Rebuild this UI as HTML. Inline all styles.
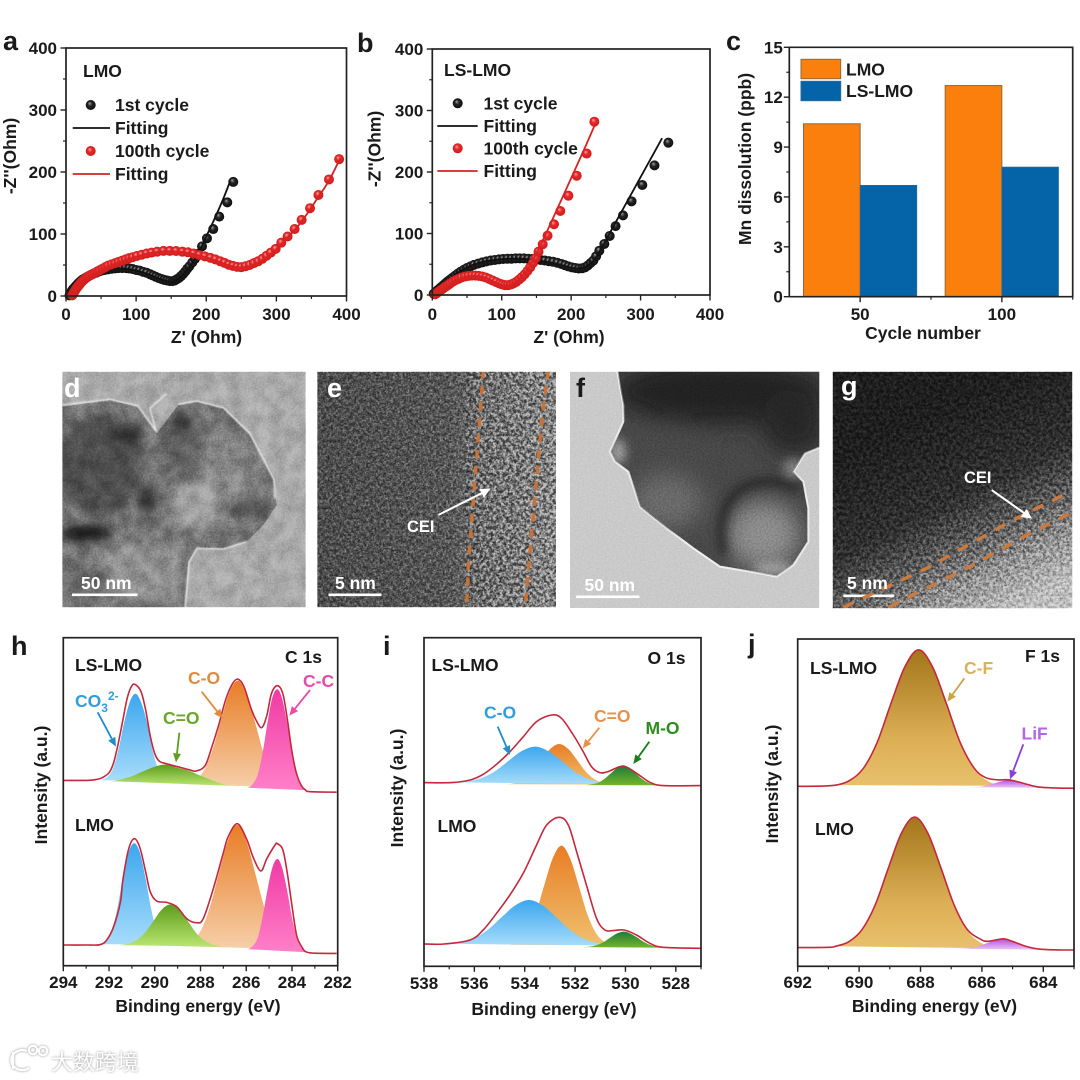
<!DOCTYPE html>
<html lang="en">
<head>
<meta charset="utf-8">
<title>LMO and LS-LMO electrochemical, TEM and XPS figure</title>
<style>
html,body{margin:0;padding:0;background:#fff}
svg{display:block}
text{font-family:"Liberation Sans","Noto Sans CJK SC",sans-serif;font-weight:700;fill:#1a1a1a}
.lbl{font-size:17.5px}
.ttl{font-size:17.5px}
.tick{font-size:17px}
.pl{font-size:27px}
</style>
</head>
<body>
<svg id="fig" xmlns="http://www.w3.org/2000/svg" width="1080" height="1080" viewBox="0 0 1080 1080">
<defs>
  <radialGradient id="ballBlack" cx=".5" cy=".5" r=".55" fx=".38" fy=".32"><stop offset="0" stop-color="#a5a5a5"/><stop offset=".4" stop-color="#262626"/><stop offset="1" stop-color="#0a0a0a"/></radialGradient>
  <radialGradient id="ballRed" cx=".5" cy=".5" r=".55" fx=".38" fy=".32"><stop offset="0" stop-color="#f5a8a8"/><stop offset=".4" stop-color="#e62a2a"/><stop offset="1" stop-color="#cc1a1a"/></radialGradient>
  <linearGradient id="gBlue" x1="0" y1="0" x2="0" y2="1"><stop offset="0" stop-color="#3ca6ee"/><stop offset="1" stop-color="#a6dcfb"/></linearGradient>
  <linearGradient id="gOrange" x1="0" y1="0" x2="0" y2="1"><stop offset="0" stop-color="#e87d26"/><stop offset="1" stop-color="#f6cfa9"/></linearGradient>
  <linearGradient id="gOrange2" x1="0" y1="0" x2="0" y2="1"><stop offset="0" stop-color="#e87d26"/><stop offset="1" stop-color="#efc06e"/></linearGradient>
  <linearGradient id="gGreen" x1="0" y1="0" x2="0" y2="1"><stop offset="0" stop-color="#5c9c1c"/><stop offset="1" stop-color="#b9e670"/></linearGradient>
  <linearGradient id="gDarkGreen" x1="0" y1="0" x2="0" y2="1"><stop offset="0" stop-color="#1f7a3a"/><stop offset="1" stop-color="#74b52a"/></linearGradient>
  <linearGradient id="gPink" x1="0" y1="0" x2="0" y2="1"><stop offset="0" stop-color="#f03aa4"/><stop offset="1" stop-color="#ff80c8"/></linearGradient>
  <linearGradient id="gGold" x1="0" y1="0" x2="0" y2="1"><stop offset="0" stop-color="#a4761b"/><stop offset=".65" stop-color="#dcae55"/><stop offset="1" stop-color="#e8c06c"/></linearGradient>
  <linearGradient id="gPurple" x1="0" y1="0" x2="0" y2="1"><stop offset="0" stop-color="#b455e0"/><stop offset="1" stop-color="#edc4f8"/></linearGradient>
  <linearGradient id="eBase" x1="0" y1="0" x2="1" y2="0"><stop offset="0" stop-color="#4c4c4c"/><stop offset=".55" stop-color="#565656"/><stop offset=".68" stop-color="#6c6c6c"/><stop offset="1" stop-color="#868686"/></linearGradient>
  <linearGradient id="gBase" gradientUnits="userSpaceOnUse" x1="915" y1="420" x2="1010" y2="610"><stop offset="0" stop-color="#1e1e1e"/><stop offset=".42" stop-color="#303030"/><stop offset=".64" stop-color="#5f5f5f"/><stop offset=".8" stop-color="#929292"/><stop offset="1" stop-color="#bdbdbd"/></linearGradient>
  <filter id="blur8" x="-40%" y="-40%" width="180%" height="180%"><feGaussianBlur stdDeviation="14"/></filter>
  <filter id="blur20" x="-60%" y="-60%" width="220%" height="220%"><feGaussianBlur stdDeviation="34"/></filter>
  <filter id="blur2" x="-10%" y="-10%" width="120%" height="120%"><feGaussianBlur stdDeviation="2.5"/></filter>
  <filter id="noiseFine" x="0" y="0" width="1" height="1" color-interpolation-filters="sRGB"><feTurbulence type="fractalNoise" baseFrequency=".6" numOctaves="2" seed="4"/><feColorMatrix type="matrix" values="1 0 0 0 0 1 0 0 0 0 1 0 0 0 0 0 0 0 0 1"/><feComponentTransfer><feFuncR type="linear" slope="2.4" intercept="-.7"/><feFuncG type="linear" slope="2.4" intercept="-.7"/><feFuncB type="linear" slope="2.4" intercept="-.7"/></feComponentTransfer></filter>
  <filter id="noiseMid" x="0" y="0" width="1" height="1" color-interpolation-filters="sRGB"><feTurbulence type="fractalNoise" baseFrequency=".3" numOctaves="2" seed="7"/><feColorMatrix type="matrix" values="1 0 0 0 0 1 0 0 0 0 1 0 0 0 0 0 0 0 0 1"/><feComponentTransfer><feFuncR type="linear" slope="2.8" intercept="-.9"/><feFuncG type="linear" slope="2.8" intercept="-.9"/><feFuncB type="linear" slope="2.8" intercept="-.9"/></feComponentTransfer></filter>
  <filter id="noiseSoft" x="0" y="0" width="1" height="1" color-interpolation-filters="sRGB"><feTurbulence type="fractalNoise" baseFrequency=".07" numOctaves="3" seed="9"/><feColorMatrix type="matrix" values="1 0 0 0 0 1 0 0 0 0 1 0 0 0 0 0 0 0 0 1"/><feComponentTransfer><feFuncR type="linear" slope="2" intercept="-.5"/><feFuncG type="linear" slope="2" intercept="-.5"/><feFuncB type="linear" slope="2" intercept="-.5"/></feComponentTransfer></filter>
  <clipPath id="clipD"><rect x="62.3" y="371.7" width="243.4" height="235.6"/></clipPath>
  <clipPath id="clipE"><rect x="317.3" y="371.7" width="238.7" height="235.6"/></clipPath>
  <clipPath id="clipF"><rect x="570" y="371.7" width="249.3" height="236.3"/></clipPath>
  <clipPath id="clipG"><rect x="832.7" y="371.7" width="239.6" height="236.6"/></clipPath>
  <clipPath id="clipDParticle"><path d="M37,125 L180,105 L265,125 L320,205 L385,120 L440,110 L520,130 L600,210 L670,340 L680,420 L640,480 L590,530 L520,550 L440,550 L415,590 L405,727 L37,727Z"/></clipPath>
  <clipPath id="clipFParticle"><path d="M170,10 L190,120 L190,170 L170,215 L150,260 L165,290 L205,320 L240,425 L320,490 L400,550 L480,605 L600,625 L650,635 L700,600 L745,530 L745,430 L730,350 L700,320 L735,265 L785,245 L785,10Z"/></clipPath>
</defs>

<!-- TEM image d -->
<g clip-path="url(#clipD)">
  <rect x="62.3" y="371.7" width="243.4" height="235.6" fill="#a9a9a9"/>
  <g transform="translate(50,365) scale(.33333)">
    <path d="M37,125 L180,105 L265,125 L320,205 L385,120 L440,110 L520,130 L600,210 L670,340 L680,420 L640,480 L590,530 L520,550 L440,550 L415,590 L405,727 L37,727Z" fill="#747474"/>
    <g clip-path="url(#clipDParticle)">
      <g filter="url(#blur8)">
        <ellipse cx="150" cy="300" rx="125" ry="150" fill="#4d4d4d"/>
        <ellipse cx="230" cy="210" rx="50" ry="30" fill="#2e2e2e"/>
        <ellipse cx="110" cy="505" rx="80" ry="24" fill="#121212"/>
        <ellipse cx="290" cy="400" rx="28" ry="40" fill="#2e2e2e"/>
        <ellipse cx="400" cy="250" rx="60" ry="80" fill="#5f5f5f"/>
        <ellipse cx="395" cy="175" rx="32" ry="30" fill="#343434"/>
        <ellipse cx="540" cy="320" rx="90" ry="110" fill="#868686"/>
        <ellipse cx="440" cy="420" rx="70" ry="75" fill="#a0a0a0"/>
        <ellipse cx="600" cy="430" rx="60" ry="25" fill="#484848"/>
        <ellipse cx="240" cy="620" rx="120" ry="85" fill="#909090"/>
        <ellipse cx="110" cy="640" rx="70" ry="50" fill="#686868"/>
        <ellipse cx="340" cy="630" rx="50" ry="90" fill="#929292"/>
      </g>
    </g>
    <path d="M37,120 L180,103 L262,122 L318,198 L300,130 L350,85 M385,118 L440,108 L520,128 L600,205 L672,345 L675,400 M590,530 L520,552 L440,550 L418,590 L405,727" fill="none" stroke="#ececec" stroke-width="4" filter="url(#blur2)"/>
  </g>
  <rect x="62.3" y="371.7" width="243.4" height="235.6" filter="url(#noiseSoft)" style="mix-blend-mode:overlay" opacity=".16"/>
  <rect x="62.3" y="371.7" width="243.4" height="235.6" filter="url(#noiseFine)" style="mix-blend-mode:overlay" opacity=".12"/>
  <rect x="72" y="593.5" width="65.5" height="2.6" fill="#fff"/>
</g>
<text class="pl" x="64" y="397" style="fill:#fff">d</text>
<text class="lbl" x="81" y="589" style="fill:#fff">50 nm</text>

<!-- TEM image e -->
<g clip-path="url(#clipE)">
  <rect x="317.3" y="371.7" width="238.7" height="235.6" fill="url(#eBase)"/>
  <rect x="317.3" y="371.7" width="238.7" height="235.6" filter="url(#noiseFine)" style="mix-blend-mode:overlay" opacity=".35"/>
  <rect x="317.3" y="371.7" width="238.7" height="235.6" filter="url(#noiseMid)" style="mix-blend-mode:overlay" opacity=".28"/>
  <rect x="465" y="371.7" width="91" height="235.6" filter="url(#noiseMid)" style="mix-blend-mode:overlay" opacity=".26"/>
  <rect x="328.5" y="593.5" width="53" height="2.6" fill="#fff"/>
  <g transform="translate(50,365) scale(.33333)" fill="none">
    <path d="M1300,15 L1290,150 L1275,340 L1255,600 L1250,730" stroke="#c97238" stroke-width="10" stroke-dasharray="26 22"/>
    <path d="M1495,15 L1475,170 L1460,340 L1440,560 L1425,730" stroke="#c97238" stroke-width="10" stroke-dasharray="26 22"/>
    <line x1="1165" y1="450" x2="1300" y2="382" stroke="#fff" stroke-width="6"/>
    <polygon points="1322,370 1288,372 1302,398" fill="#fff"/>
  </g>
</g>
<text class="pl" x="327" y="397" style="fill:#fff">e</text>
<text x="407" y="532" style="fill:#fff;font-size:16.5px">CEI</text>
<text class="lbl" x="335" y="589" style="fill:#fff">5 nm</text>

<!-- TEM image f -->
<g clip-path="url(#clipF)">
  <rect x="570" y="371.7" width="249.3" height="236.3" fill="#cacaca"/>
  <g transform="translate(560,365) scale(.33333)">
    <path d="M170,10 L190,120 L190,170 L170,215 L150,260 L165,290 L205,320 L240,425 L320,490 L400,550 L480,605 L600,625 L650,635 L700,600 L745,530 L745,430 L730,350 L700,320 L735,265 L785,245 L785,10Z" fill="#484848" stroke="#f2f2f2" stroke-width="6"/>
    <g clip-path="url(#clipFParticle)">
      <g filter="url(#blur20)">
        <ellipse cx="480" cy="80" rx="320" ry="100" fill="#232323"/>
        <ellipse cx="700" cy="170" rx="100" ry="100" fill="#262626"/>
        <ellipse cx="320" cy="260" rx="110" ry="60" fill="#494949"/>
        <ellipse cx="320" cy="410" rx="110" ry="80" fill="#6a6a6a"/>
        <ellipse cx="610" cy="510" rx="110" ry="100" fill="#8c8c8c"/>
      </g>
      <path d="M490,570 C465,460 500,360 610,350 C650,348 690,355 715,375" fill="none" stroke="#262626" stroke-width="26" filter="url(#blur8)"/>
      <g filter="url(#blur8)">
        <ellipse cx="175" cy="260" rx="22" ry="38" fill="#a0a0a0"/>
        <ellipse cx="640" cy="610" rx="60" ry="18" fill="#a4a4a4"/>
        <ellipse cx="700" cy="310" rx="30" ry="28" fill="#808080"/>
      </g>
    </g>
  </g>
  <rect x="570" y="371.7" width="249.3" height="236.3" filter="url(#noiseFine)" style="mix-blend-mode:overlay" opacity=".1"/>
  <rect x="576" y="595.5" width="63.5" height="2.6" fill="#fff"/>
</g>
<text class="pl" x="576" y="397">f</text>
<text class="lbl" x="584.5" y="591" style="fill:#fff">50 nm</text>

<!-- TEM image g -->
<g clip-path="url(#clipG)">
  <rect x="832.7" y="371.7" width="239.6" height="236.6" fill="url(#gBase)"/>
  <rect x="832.7" y="371.7" width="239.6" height="236.6" filter="url(#noiseFine)" style="mix-blend-mode:overlay" opacity=".28"/>
  <rect x="832.7" y="371.7" width="239.6" height="236.6" filter="url(#noiseMid)" style="mix-blend-mode:overlay" opacity=".38"/>
  <rect x="843.3" y="594.5" width="51" height="2.6" fill="#fff"/>
  <g transform="translate(560,365) scale(.33333)" fill="none">
    <path d="M850,727 L1100,610 L1350,470 L1530,380" stroke="#cc7a3e" stroke-width="10" stroke-dasharray="34 30"/>
    <path d="M985,727 L1220,610 L1400,510 L1540,440" stroke="#cc7a3e" stroke-width="10" stroke-dasharray="34 30"/>
    <line x1="1295" y1="375" x2="1395" y2="446" stroke="#fff" stroke-width="6"/>
    <polygon points="1416,461 1400,432 1382,456" fill="#fff"/>
  </g>
</g>
<text class="pl" x="841" y="395" style="fill:#fff">g</text>
<text x="964" y="483" style="fill:#fff;font-size:16.5px">CEI</text>
<text class="lbl" x="847" y="589" style="fill:#fff">5 nm</text>

<!-- Chart layers filled by script -->
<g id="panelA"></g>
<g id="panelB"></g>
<g id="panelC"></g>
<g id="panelH"></g>
<g id="panelI"></g>
<g id="panelJ"></g>

<!-- Panel letters -->
<text class="pl" x="3" y="50">a</text>
<text class="pl" x="357" y="52">b</text>
<text class="pl" x="726" y="50">c</text>
<text class="pl" x="11" y="655">h</text>
<text class="pl" x="383" y="655">i</text>
<text class="pl" x="748" y="653">j</text>

<!-- Panel a text -->
<text class="ttl" x="206.5" y="343" text-anchor="middle">Z' (Ohm)</text>
<text class="ttl" transform="translate(16,156) rotate(-90)" text-anchor="middle">-Z''(Ohm)</text>
<text class="lbl" x="83" y="77">LMO</text>
<text class="lbl" x="115" y="111">1st cycle</text>
<text class="lbl" x="115" y="134">Fitting</text>
<text class="lbl" x="115" y="157">100th cycle</text>
<text class="lbl" x="115" y="180">Fitting</text>
<circle cx="90.7" cy="105" r="5" fill="url(#ballBlack)"/>
<line x1="72.7" y1="128" x2="110" y2="128" stroke="#111" stroke-width="1.8"/>
<circle cx="90.7" cy="151" r="5" fill="url(#ballRed)"/>
<line x1="72.7" y1="174" x2="110" y2="174" stroke="#d62222" stroke-width="1.8"/>

<!-- Panel b text -->
<text class="ttl" x="569" y="343" text-anchor="middle">Z' (Ohm)</text>
<text class="ttl" transform="translate(380.5,149) rotate(-90)" text-anchor="middle">-Z''(Ohm)</text>
<text class="lbl" x="444" y="76">LS-LMO</text>
<text class="lbl" x="483.5" y="109.5">1st cycle</text>
<text class="lbl" x="483.5" y="132">Fitting</text>
<text class="lbl" x="483.5" y="154.5">100th cycle</text>
<text class="lbl" x="483.5" y="177">Fitting</text>
<circle cx="457.7" cy="103.3" r="5" fill="url(#ballBlack)"/>
<line x1="437.3" y1="126" x2="477.7" y2="126" stroke="#111" stroke-width="1.8"/>
<circle cx="457.7" cy="148.3" r="5" fill="url(#ballRed)"/>
<line x1="437.3" y1="171" x2="477.7" y2="171" stroke="#d62222" stroke-width="1.8"/>

<!-- Panel c text -->
<text class="ttl" x="923" y="339" text-anchor="middle">Cycle number</text>
<text class="ttl" transform="translate(751,159) rotate(-90)" text-anchor="middle">Mn dissolution (ppb)</text>
<rect x="801" y="59.3" width="39.7" height="19.4" fill="#fb7f0c" stroke="#8f6a3a" stroke-width="1"/>
<rect x="801" y="81.3" width="39.7" height="19.4" fill="#0563a8" stroke="#2a6a9c" stroke-width="1"/>
<text class="lbl" x="846" y="75.5">LMO</text>
<text class="lbl" x="846" y="97">LS-LMO</text>

<!-- Panel h text -->
<text class="ttl" x="198" y="1012" text-anchor="middle">Binding energy (eV)</text>
<text class="ttl" transform="translate(47,785) rotate(-90)" text-anchor="middle">Intensity (a.u.)</text>
<text class="lbl" x="75" y="671">LS-LMO</text>
<text class="lbl" x="75" y="831">LMO</text>
<text class="lbl" x="285" y="663">C 1s</text>
<text class="lbl" x="75" y="707" style="fill:#2f9fdc">CO<tspan dy="5" font-size="12">3</tspan><tspan dy="-12" font-size="12">2-</tspan></text>
<text class="lbl" x="188" y="684" style="fill:#e08c40">C-O</text>
<text class="lbl" x="163" y="724" style="fill:#6aa52c">C=O</text>
<text class="lbl" x="303" y="687" style="fill:#e64bab">C-C</text>

<!-- Panel i text -->
<text class="ttl" x="554" y="1015" text-anchor="middle">Binding energy (eV)</text>
<text class="ttl" transform="translate(403,788) rotate(-90)" text-anchor="middle">Intensity (a.u.)</text>
<text class="lbl" x="431.5" y="671">LS-LMO</text>
<text class="lbl" x="437.5" y="832">LMO</text>
<text class="lbl" x="647.5" y="664">O 1s</text>
<text class="lbl" x="484" y="718.5" style="fill:#2f9fdc">C-O</text>
<text class="lbl" x="594" y="722" style="fill:#e8914a">C=O</text>
<text class="lbl" x="645.5" y="734" style="fill:#2e8b1e">M-O</text>

<!-- Panel j text -->
<text class="ttl" x="934.5" y="1012" text-anchor="middle">Binding energy (eV)</text>
<text class="ttl" transform="translate(778,784) rotate(-90)" text-anchor="middle">Intensity (a.u.)</text>
<text class="lbl" x="810" y="674">LS-LMO</text>
<text class="lbl" x="815" y="835">LMO</text>
<text class="lbl" x="1025" y="662">F 1s</text>
<text class="lbl" x="964" y="674" style="fill:#d9b25a">C-F</text>
<text class="lbl" x="1021.5" y="739.5" style="fill:#b565e8">LiF</text>

<!-- Watermark -->
<g style="filter:drop-shadow(0 0 1.4px #8f8f8f)">
  <g fill="none" stroke="#fff" stroke-width="2.2">
    <path d="M13,1052 L13,1069 M27,1051 A11,10 0 1 0 29,1068"/>
    <circle cx="33" cy="1050" r="4.2"/>
    <circle cx="43" cy="1051" r="4.2"/>
  </g>
  <text x="51" y="1070" style="fill:#fff;font-size:22px;font-weight:400;font-family:'Liberation Sans','Noto Sans CJK SC',sans-serif">大数跨境</text>
</g>
</svg>

<script>
/* ---------- Panel a: Nyquist, LMO ---------- */
const aX1st=[5,6,7,8.5,10,12,14,16,18,20.5,23,26,29,32,35.5,39,43,47,51,55,60,65,70,75,80,85,90,95,100,105,110,115,120,124,128,132,136,140,144,148,152,155,158,161,164,167,170,173,176,180,184,188,194,201,210,218.5,230,238.5];
const aY1st=[1,3.5,6,8.5,11,13.5,16,18.5,21,23.5,26,28,30,32,34,36,37.5,39.5,41,42,43,44,44.5,45,45,45,44.5,43.5,42,41,39,37.5,35,33,31,29,27.5,26,25,24,24,25,27,29,32,35.5,39.5,44,48,54,60,68,80,93,108,128,151,184];
const aXFit1st=[6,10,16,25,36,49,64,80,96,112,126,138,148,155,162,170,180,190,200,212,224,234];
const aYFit1st=[0,9,18,27,34,40,43,44,42,37,31,26,23,24,29,38,53,72,96,125,156,185];
const aX100=[9,10,11,12,13,14,15.5,17,19,21,23,25.5,28,31,34,37.5,41,44.5,48,52,56,60,65,70,75,80,85,90,95,101,108,115,122,130,139,148,157,166,174,182,190,198,206,213,220,226,232,238,244,250,256,262,268,274,280,286,292,299,307,316,326,336,348,360,375,389.5];
const aY100=[1,3,5,7,9,11,13,15.5,18,21,23.5,26,28.5,31,33,35,37,39.5,41.5,44,46.5,49,51,53,55,57,59,61,62.5,64.5,66.5,68.5,70,71.5,72.7,72.7,72.5,71.5,70.5,68.5,66,64,61.5,59,56,53.5,50.5,48.5,47,46.5,48,50,53,56,60,65,70,76,86,96,108,122.7,141.6,163,188,220.7];
const aXFit100=[9,14,20,30,42,56,74,94,115,139,165,188,212,231,248,265,283,299,316,336,360,375,391];
const aYFit100=[0,8,18,28,36,44,53,61,68,72,71,66,58,50,46,49,59,74,94,120,160,186,222];
const aXTicks=[0,100,200,300,400];
const aYTicks=[0,100,200,300,400];
const aXMinor=[50,150,250,350];
const aYMinor=[50,150,250,350];

/* ---------- Panel b: Nyquist, LS-LMO ---------- */
const bX1st=[2,4,6,8,10.5,13,16,19,22,25.5,29,33,37,41,45.5,50,55,60,66,72,78,84,90,96,102,108,114,120,126,132,138,144,150,156,162,168,174,180,186,191,196,201,206,211,216,220,224,228,232,236,240.6,247.8,255.5,264,274.7,287,302.5,320,340];
const bY1st=[2,4,6,8,10.5,13,16,19,22,25,28,31.5,35,38,41,44,46.5,49,51,53,54.7,56,57,58,58.5,59,59,59.5,59.6,59.5,59,58.5,58,57,56,55,54,52.5,50.5,48.5,46.5,45,44,43,43.5,45,48,52,56,63,72,83,96,112,129.5,152.3,178.9,210.8,247.7];
const bXFit1st=[3,13,28,47,67,90,114,138,162,181,200,212,222,234,248,265,287,310,331];
const bYFit1st=[0,14,29,43,52,57,59,58,54,50,44,43,46,58,85,120,165,212,255];
const bX100=[4,6,8,10.5,13,16,19,22.5,26,30,34,38,42,47,52,57,62,67,72,77,82,87,92,97,101,105,109,113,117,121,125,129,133,137,141,145,149,153,159,166,175.3,184.4,196,208,222.3,233.4];
const bY100=[1,2.5,4.5,6.5,8.5,11,13.5,16,19,22,24.5,26.5,28.5,30,31,31.5,31.5,31,30,28.5,26,23.5,21,18.5,17,16,16,17,19,21.5,25,29,33.5,39,45,52,60,70.5,82.4,96.5,115,136.6,161.5,194,230,281.8];
const bXFit100=[6,18,30,45,60,75,90,104,116,128,140,152,165,180,200,220,235];
const bYFit100=[0,10,20,28,31,29,21,15,18,29,47,72,103,140,190,240,279];
const bXTicks=[0,100,200,300,400];
const bYTicks=[0,100,200,300,400];
const bXMinor=[50,150,250,350];
const bYMinor=[50,150,250,350];

/* ---------- Panel c: Mn dissolution ---------- */
const cCycles=[50,100];
const cLmo=[10.4,12.7];
const cLsLmo=[6.7,7.8];
const cYTicks=[0,3,6,9,12,15];
const cYMinor=[1.5,4.5,7.5,10.5,13.5];
const cXMinor=[75,125];

/* ---------- Panel h: C 1s ---------- */
const hXTicks=[294,292,290,288,286,284,282];
const hXMinor=[293,291,289,287,285,283];
const hLsCo3BE=[292.34,292.09,291.84,291.59,291.34,291.09,290.84,290.59,290.34,290.09,289.84,289.59,289.34];
const hLsCo3I=[185.5,188.4,196.4,216,243,264,272,263,243,215,196,188,185];
const hLsCoBE=[288.6,288.24,287.86,287.49,287.11,286.74,286.36,285.99,285.61,285.24,284.86,284.49,284.11];
const hLsCoI=[181.5,185.5,195,215,245,273,285,271,243,212.5,192,182.5,178];
const hLsCdoBE=[291.9,291.5,291,290.5,290,289.52,289,288.5,288,287.5,287,286.7];
const hLsCdoI=[184.5,186,189.5,194.5,199,201,198,195,190,185.5,181.5,180];
const hLsCcBE=[285.93,285.72,285.5,285.29,285.07,284.86,284.64,284.43,284.21,283.99,283.78,283.57,283.35];
const hLsCcI=[178,181.5,191,212,243,268,276.5,267,242,211,189,179.5,175.5];
const hLsEnvBE=[294,293,292.6,292.3,292,291.8,291.6,291.4,291.2,291,290.84,290.6,290.4,290.2,290,289.8,289.5,289,288.5,288.2,287.8,287.5,287.2,286.9,286.6,286.36,286.1,285.8,285.6,285.33,285.1,284.9,284.64,284.4,284.2,284,283.8,283.6,283.4,283.2,282.05];
const hLsEnvI=[185.3,185.3,186,188,193,203,222,245,268,280,281,274,256,230,212,204.5,202,199,196,194.7,200,219,241,266,282,286.5,279,258,247,238,250,272,280,272,246,214,192,180.5,175.5,174,173.5];
const hLmCo3BE=[292.4,292.15,291.9,291.65,291.4,291.15,290.9,290.65,290.4,290.15,289.9,289.65,289.4];
const hLmCo3I=[21.6,25,34,56,87,113,122.5,113,87,56,33.8,24.8,21];
const hLmCoBE=[288.79,288.39,287.99,287.59,287.19,286.79,286.39,285.99,285.59,285.19,284.79,284.39,283.99];
const hLmCoI=[19.5,24,35,58.5,93,126,140.7,124.5,91,57,33,22,16.5];
const hLmCdoBE=[291.55,291.18,290.8,290.43,290.05,289.68,289.3,288.93,288.55,288.18,287.8,287.43,287.05];
const hLmCdoI=[20.5,21.8,25.5,33,45,56.5,61.3,55.8,44.5,32.5,24.8,21,19];
const hLmCcBE=[285.93,285.72,285.5,285.29,285.07,284.86,284.64,284.43,284.21,283.99,283.78,283.57,283.35];
const hLmCcI=[16.5,19.5,28,48,76,98,106.7,98,75,47,27,17.5,13.5];
const hLmEnvBE=[294,293,292.4,292.1,291.8,291.5,291.4,291.15,290.9,290.65,290.4,290.2,289.92,289.48,289.04,288.6,288.17,287.88,287.44,287,286.79,286.39,285.99,285.69,285.36,285.1,284.74,284.64,284.4,284.2,284,283.8,283.6,283.4,283,282.05];
const hLmEnvI=[20.7,20.7,21,25.7,39,64,85,116,127,118,94,74,64.7,63.3,59,47,43,47,77,113,129,142,127,108,94.7,107,120.7,122,116,92,60,30.7,20,14,12.5,12.3];

/* ---------- Panel i: O 1s ---------- */
const iXTicks=[538,536,534,532,530,528];
const iXMinor=[537,535,533,531,529,527];
const iLsCoBE=[536.75,536.22,535.69,535.16,534.63,534.1,533.57,533.04,532.51,531.98,531.45,530.92,530.39];
const iLsCoI=[184,185.2,188.5,195.4,205.7,215.5,219.7,214.8,204.8,194,187,183.6,182];
const iLsCdoBE=[534.73,534.38,534.03,533.68,533.33,532.98,532.63,532.28,531.93,531.58,531.23,530.88,530.53];
const iLsCdoI=[182,183.3,187,195,206.5,217.5,222.3,217.5,206.5,194.8,187,183.3,181.8];
const iLsMoBE=[531.59,531.34,531.09,530.84,530.59,530.34,530.09,529.84,529.59,529.34,529.09,528.84,528.59];
const iLsMoI=[181.2,181.9,183.6,187.3,192.8,198,200.3,198,192.8,187.3,183.6,181.9,181];
const iLsEnvBE=[538,536.9,536.17,535.65,535.12,534.59,534.06,533.53,532.93,532.54,532.07,531.68,531.35,531.02,530.69,530.09,529.56,529.03,528.5,527];
const iLsEnvI=[183.7,183.7,186.3,192,202,214.5,229.5,244.7,251.3,248,231.3,214.7,199.7,193.7,194.7,200.3,193,184,180.7,180.7];
const iLmCoBE=[537.12,536.57,536.02,535.47,534.92,534.37,533.82,533.27,532.72,532.17,531.62,531.07,530.52];
const iLmCoI=[22.5,24,28,36.4,49,61,66.3,60.5,48.3,35.5,27,23,20.8];
const iLmCdoBE=[534.58,534.24,533.9,533.56,533.22,532.88,532.54,532.2,531.86,531.52,531.18,530.84,530.5];
const iLmCdoI=[21.6,25,34,53,81.5,108.5,120.7,108,81,52.5,33.5,24.4,21];
const iLmMoBE=[531.71,531.43,531.16,530.88,530.61,530.34,530.06,529.79,529.51,529.24,528.96,528.69,528.41];
const iLmMoI=[19.2,19.7,21.1,24.1,28.6,32.8,34.7,32.6,28.4,23.9,20.9,19.5,18.5];
const iLmEnvBE=[538,537.2,536.17,535.65,535.12,534.59,534.06,533.53,533.13,532.63,532.27,531.94,531.55,531.15,530.82,530.49,530.06,529.56,529.03,528.5,527];
const iLmEnvI=[22.3,22.3,26.3,36.3,53,71.3,93,121.3,141.3,149,141.3,114.7,81.3,48,36.3,35.7,36.3,31.3,23,19,18];

/* ---------- Panel j: F 1s ---------- */
const jXTicks=[692,690,688,686,684];
const jXMinor=[691,689,687,685,683];
const jLsCfBE=[690.76,690.31,689.86,689.41,688.96,688.51,688.06,687.61,687.16,686.71,686.26,685.81,685.36];
const jLsCfI=[181.2,185.8,198,224,263,299.4,316,299,262.5,223.5,197.5,185.3,180.5];
const jLsLifBE=[686.47,686.24,686.02,685.8,685.57,685.35,685.12,684.9,684.67,684.45,684.22,684,683.77];
const jLsLifI=[179,179.2,179.7,181.1,183.2,185.1,186,185.1,183.2,181,179.6,178.9,178.5];
const jLsEnvBE=[692,691.2,690.7,690.3,689.86,689.41,688.96,688.51,688.06,687.61,687.16,686.71,686.26,685.9,685.5,685.12,684.67,684.22,683.77,683];
const jLsEnvI=[180,180.2,181.5,186,198,224,263,299.4,316.5,299.5,263,224,198.5,189,186.5,186.5,183.2,179.6,178.5,178];
const jLmCfBE=[690.77,690.34,689.91,689.48,689.05,688.62,688.19,687.76,687.33,686.9,686.47,686.04,685.61];
const jLmCfI=[20,24.2,36,60.8,98,133.2,149,132.8,97.6,60.4,35.5,23.5,18];
const jLmLifBE=[686.81,686.56,686.31,686.06,685.81,685.56,685.31,685.06,684.81,684.56,684.31,684.06,683.81];
const jLmLifI=[17.6,17.9,18.6,20.5,23.4,26,27,25.5,22.7,19.9,18,17,16.5];
const jLmEnvBE=[692,691,690.77,690.34,689.91,689.48,689.05,688.62,688.19,687.76,687.33,686.9,686.47,686.04,685.8,685.31,685.06,684.81,684.56,684.31,684.06,683.5,683];
const jLmEnvI=[18.7,19,20,24.5,36.5,61,98,133.2,149.3,133,98,61,36.5,27,25,27.5,25.5,22.7,19.9,18,17,16.4,16.3];

/* ---------- Drawing helpers ---------- */
const SVGNS='http://www.w3.org/2000/svg';
function make(parent,tag,attrs,name){
  const el=document.createElementNS(SVGNS,tag);
  for(const k in attrs){el.setAttribute(k,attrs[k]);}
  
  
  parent.appendChild(el);
  return el;
}
function linear(d0,d1,r0,r1){
  return function(v){return r0+(v-d0)*(r1-r0)/(d1-d0);};
}
function smoothPath(xs,ys,sx,sy){
  const P=xs.map(function(x,i){return [sx(x),sy(ys[i])];});
  let d='M'+P[0][0].toFixed(2)+','+P[0][1].toFixed(2);
  for(let i=0;i<P.length-1;i++){
    const p0=P[Math.max(i-1,0)],p1=P[i],p2=P[i+1],p3=P[Math.min(i+2,P.length-1)];
    d+=' C'+(p1[0]+(p2[0]-p0[0])/6).toFixed(2)+','+(p1[1]+(p2[1]-p0[1])/6).toFixed(2)+' '+
        (p2[0]-(p3[0]-p1[0])/6).toFixed(2)+','+(p2[1]-(p3[1]-p1[1])/6).toFixed(2)+' '+
        p2[0].toFixed(2)+','+p2[1].toFixed(2);
  }
  return d;
}
function axes(g,box,sx,sy,xTicks,xMinor,yTicks,yMinor,prefix,xLabelBaseline){
  make(g,'rect',{x:box.l,y:box.t,width:box.r-box.l,height:box.b-box.t,fill:'none',stroke:'#222','stroke-width':1.7},prefix+'-plot-frame');
  xTicks.forEach(function(t){
    make(g,'line',{x1:sx(t),x2:sx(t),y1:box.b,y2:box.b+5.5,stroke:'#222','stroke-width':1.4},prefix+'-x-tick');
    const lab=make(g,'text',{x:sx(t),y:xLabelBaseline,'text-anchor':'middle',class:'tick'},prefix+'-x-tick-label');
    lab.textContent=String(t);
  });
  xMinor.forEach(function(t){
    make(g,'line',{x1:sx(t),x2:sx(t),y1:box.b,y2:box.b+3,stroke:'#222','stroke-width':1.2},prefix+'-x-minor-tick');
  });
  yTicks.forEach(function(t){
    make(g,'line',{x1:box.l-5.5,x2:box.l,y1:sy(t),y2:sy(t),stroke:'#222','stroke-width':1.4},prefix+'-y-tick');
    const lab=make(g,'text',{x:box.l-9,y:sy(t)+6,'text-anchor':'end',class:'tick'},prefix+'-y-tick-label');
    lab.textContent=String(t);
  });
  yMinor.forEach(function(t){
    make(g,'line',{x1:box.l-3,x2:box.l,y1:sy(t),y2:sy(t),stroke:'#222','stroke-width':1.2},prefix+'-y-minor-tick');
  });
}
function nyquistSeries(g,xs,ys,fx,fy,sx,sy,ball,color,prefix){
  xs.forEach(function(x,i){
    make(g,'circle',{cx:sx(x),cy:sy(ys[i]),r:5,fill:'url(#'+ball+')'},prefix+'-point');
  });
  make(g,'path',{d:smoothPath(fx,fy,sx,sy),fill:'none',stroke:color,'stroke-width':1.8},prefix+'-fit-line');
}
function peak(g,xs,ys,sx,sy,grad,name){
  make(g,'path',{d:smoothPath(xs,ys,sx,sy)+' Z',fill:'url(#'+grad+')',stroke:'none'},name);
}
function envelope(g,xs,ys,sx,sy,name){
  make(g,'path',{d:smoothPath(xs,ys,sx,sy),fill:'none',stroke:'#c4283c','stroke-width':1.6},name);
}
function arrow(g,ox,oy,x1,y1,x2,y2,color,name){
  const a=Math.atan2(y2-y1,x2-x1),L=9,W=4;
  const X1=ox+x1/3,Y1=oy+y1/3,X2=ox+x2/3,Y2=oy+y2/3;
  const bx=X2-L*Math.cos(a),by=Y2-L*Math.sin(a);
  make(g,'line',{x1:X1,y1:Y1,x2:bx,y2:by,stroke:color,'stroke-width':1.8},name+'-shaft');
  make(g,'polygon',{points:X2+','+Y2+' '+(bx-W*Math.sin(a))+','+(by+W*Math.cos(a))+' '+(bx+W*Math.sin(a))+','+(by-W*Math.cos(a)),fill:color},name+'-head');
}

/* ---------- Panel a ---------- */
(function(){
  const g=document.getElementById('panelA');
  const box={l:66,r:346.5,t:48,b:296};
  const sx=linear(0,400,box.l,box.r),sy=linear(0,400,box.b,box.t);
  nyquistSeries(g,aX1st,aY1st,aXFit1st,aYFit1st,sx,sy,'ballBlack','#111','a-1st-cycle');
  nyquistSeries(g,aX100,aY100,aXFit100,aYFit100,sx,sy,'ballRed','#d62222','a-100th-cycle');
  axes(g,box,sx,sy,aXTicks,aXMinor,aYTicks,aYMinor,'a',320);
})();

/* ---------- Panel b ---------- */
(function(){
  const g=document.getElementById('panelB');
  const box={l:432.3,r:710,t:49,b:295};
  const sx=linear(0,400,box.l,box.r),sy=linear(0,400,box.b,box.t);
  nyquistSeries(g,bX1st,bY1st,bXFit1st,bYFit1st,sx,sy,'ballBlack','#111','b-1st-cycle');
  nyquistSeries(g,bX100,bY100,bXFit100,bYFit100,sx,sy,'ballRed','#d62222','b-100th-cycle');
  axes(g,box,sx,sy,bXTicks,bXMinor,bYTicks,bYMinor,'b',320);
})();

/* ---------- Panel c ---------- */
(function(){
  const g=document.getElementById('panelC');
  const box={l:789.3,r:1072.7,t:47.3,b:296.7};
  const sx=linear(25,125,box.l,box.r),sy=linear(0,15,box.b,box.t);
  const barW=sx(20)-sx(0);
  cCycles.forEach(function(c,i){
    make(g,'rect',{x:sx(c)-barW,y:sy(cLmo[i]),width:barW,height:sy(0)-sy(cLmo[i]),fill:'#fb7f0c',stroke:'#8f6a3a','stroke-width':1},'bar-lmo-'+c);
    make(g,'rect',{x:sx(c),y:sy(cLsLmo[i]),width:barW,height:sy(0)-sy(cLsLmo[i]),fill:'#0563a8',stroke:'#2a6a9c','stroke-width':.6},'bar-ls-lmo-'+c);
  });
  make(g,'path',{d:'M'+box.l+','+box.b+' L'+box.l+','+box.t+' L'+box.r+','+box.t+' L'+box.r+','+box.b+' L'+box.l+','+box.b,fill:'none',stroke:'#222','stroke-width':1.7},'c-plot-frame');
  cCycles.forEach(function(c){
    make(g,'line',{x1:sx(c),x2:sx(c),y1:box.b,y2:box.b+5.5,stroke:'#222','stroke-width':1.4},'c-x-tick');
    const lab=make(g,'text',{x:sx(c),y:320,'text-anchor':'middle',class:'tick'},'c-x-tick-label');
    lab.textContent=String(c);
  });
  cXMinor.forEach(function(c){
    make(g,'line',{x1:sx(c),x2:sx(c),y1:box.b,y2:box.b+3,stroke:'#222','stroke-width':1.2},'c-x-minor-tick');
  });
  cYTicks.forEach(function(t){
    make(g,'line',{x1:box.l-5.5,x2:box.l,y1:sy(t),y2:sy(t),stroke:'#222','stroke-width':1.4},'c-y-tick');
    const lab=make(g,'text',{x:box.l-6.5,y:sy(t)+6,'text-anchor':'end',class:'tick'},'c-y-tick-label');
    lab.textContent=String(t);
  });
  cYMinor.forEach(function(t){
    make(g,'line',{x1:box.l-3,x2:box.l,y1:sy(t),y2:sy(t),stroke:'#222','stroke-width':1.2},'c-y-minor-tick');
  });
})();

/* ---------- Panel h ---------- */
(function(){
  const g=document.getElementById('panelH');
  const box={l:63.3,r:337.7,t:637.7,b:965.7};
  const sx=linear(294,282,box.l,box.r),sy=linear(0,328,box.b,box.t);
  peak(g,hLsCo3BE,hLsCo3I,sx,sy,'gBlue','h-ls-lmo-peak-co3');
  peak(g,hLsCoBE,hLsCoI,sx,sy,'gOrange','h-ls-lmo-peak-c-o');
  peak(g,hLsCdoBE,hLsCdoI,sx,sy,'gGreen','h-ls-lmo-peak-c-double-o');
  peak(g,hLsCcBE,hLsCcI,sx,sy,'gPink','h-ls-lmo-peak-c-c');
  envelope(g,hLsEnvBE,hLsEnvI,sx,sy,'h-ls-lmo-envelope');
  peak(g,hLmCo3BE,hLmCo3I,sx,sy,'gBlue','h-lmo-peak-co3');
  peak(g,hLmCoBE,hLmCoI,sx,sy,'gOrange','h-lmo-peak-c-o');
  peak(g,hLmCdoBE,hLmCdoI,sx,sy,'gGreen','h-lmo-peak-c-double-o');
  peak(g,hLmCcBE,hLmCcI,sx,sy,'gPink','h-lmo-peak-c-c');
  envelope(g,hLmEnvBE,hLmEnvI,sx,sy,'h-lmo-envelope');
  axes(g,box,sx,sy,hXTicks,hXMinor,[],[],'h',988);
  arrow(g,0,625,293,262,348,365,'#1f8fc8','arrow-co3');
  arrow(g,0,625,538,323,528,412,'#5f9e1f','arrow-h-c-double-o');
  arrow(g,0,625,605,200,668,280,'#e08a3c','arrow-h-c-o');
  arrow(g,0,625,930,195,868,272,'#ea4aa8','arrow-h-c-c');
})();

/* ---------- Panel i ---------- */
(function(){
  const g=document.getElementById('panelI');
  const box={l:424,r:701,t:637.7,b:966.3};
  const sx=linear(538,527,box.l,box.r),sy=linear(0,328.6,box.b,box.t);
  peak(g,iLsCdoBE,iLsCdoI,sx,sy,'gOrange2','i-ls-lmo-peak-c-double-o');
  peak(g,iLsCoBE,iLsCoI,sx,sy,'gBlue','i-ls-lmo-peak-c-o');
  peak(g,iLsMoBE,iLsMoI,sx,sy,'gDarkGreen','i-ls-lmo-peak-m-o');
  envelope(g,iLsEnvBE,iLsEnvI,sx,sy,'i-ls-lmo-envelope');
  peak(g,iLmCdoBE,iLmCdoI,sx,sy,'gOrange2','i-lmo-peak-c-double-o');
  peak(g,iLmCoBE,iLmCoI,sx,sy,'gBlue','i-lmo-peak-c-o');
  peak(g,iLmMoBE,iLmMoI,sx,sy,'gDarkGreen','i-lmo-peak-m-o');
  envelope(g,iLmEnvBE,iLmEnvI,sx,sy,'i-lmo-envelope');
  axes(g,box,sx,sy,iXTicks,iXMinor,[],[],'i',989);
  arrow(g,370,625,383,305,420,390,'#1f8fc8','arrow-i-c-o');
  arrow(g,370,625,688,308,638,370,'#e8914a','arrow-i-c-double-o');
  arrow(g,370,625,838,350,790,417,'#1d7d1d','arrow-i-m-o');
})();

/* ---------- Panel j ---------- */
(function(){
  const g=document.getElementById('panelJ');
  const box={l:797.7,r:1074,t:639,b:966.3};
  const sx=linear(692,683,box.l,box.r),sy=linear(0,327.3,box.b,box.t);
  peak(g,jLsCfBE,jLsCfI,sx,sy,'gGold','j-ls-lmo-peak-c-f');
  peak(g,jLsLifBE,jLsLifI,sx,sy,'gPurple','j-ls-lmo-peak-lif');
  envelope(g,jLsEnvBE,jLsEnvI,sx,sy,'j-ls-lmo-envelope');
  peak(g,jLmCfBE,jLmCfI,sx,sy,'gGold','j-lmo-peak-c-f');
  peak(g,jLmLifBE,jLmLifI,sx,sy,'gPurple','j-lmo-peak-lif');
  envelope(g,jLmEnvBE,jLmEnvI,sx,sy,'j-lmo-envelope');
  axes(g,box,sx,sy,jXTicks,jXMinor,[],[],'j',988);
  arrow(g,730,625,703,160,652,230,'#c8a545','arrow-c-f');
  arrow(g,730,625,880,358,840,463,'#8a3fd8','arrow-lif');
})();
</script>
</body>
</html>
